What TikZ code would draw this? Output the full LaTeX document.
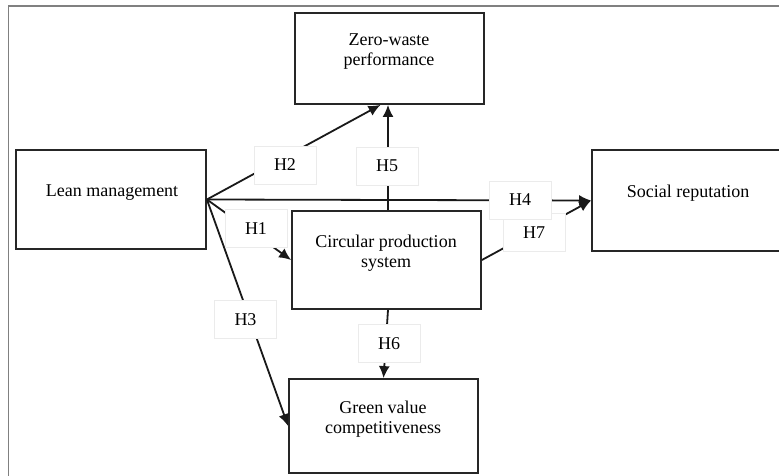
\documentclass[tikz,border=0pt]{standalone}
\usepackage{fontspec}
\setmainfont{Liberation Serif}
\usetikzlibrary{arrows.meta}
\begin{document}
\begin{tikzpicture}[x=1pt,y=-1pt,
  box/.style={draw=black!85,line width=1.8pt,rectangle,inner sep=0pt},
  txt/.style={align=center,inner sep=0pt,font=\fontsize{18}{20}\selectfont},
  hlab/.style={draw=black!8,line width=0.6pt,fill=white,minimum width=62pt,minimum height=38pt,inner sep=0pt,font=\fontsize{18}{20}\selectfont},
  arr/.style={draw=black!90,line width=1.8pt,-{Latex[length=12pt,width=11pt]}}]
\useasboundingbox (0,0) rectangle (779,476);
\clip (0,0) rectangle (779,476);
% outer frame
\draw[gray,line width=1.2pt] (8.5,480) -- (8.5,6) -- (790,6);
% boxes
\node[box,minimum width=189pt,minimum height=91pt] (zw) at (389.5,58.5) {};
\node[box,minimum width=190pt,minimum height=99pt] (lean) at (111,199.5) {};
\node[box,minimum width=190pt,minimum height=101pt] (soc) at (687,200.5) {};
\node[box,minimum width=189pt,minimum height=98pt] (circ) at (386.5,260) {};
\node[box,minimum width=189pt,minimum height=94pt] (green) at (383.5,426) {};
% box texts
\node[txt] (zwt) at (389,52) {Zero-waste\\performance};
\node[txt] (leant) at (112,193) {Lean management};
\node[txt] (soct) at (688,193) {Social reputation};
\node[txt] (circt) at (386,253) {Circular production\\system};
\node[txt] (greent) at (383,419) {Green value\\competitiveness};
% arrows
\draw[arr] (lean.east) -- ([xshift=-9pt]zw.south);
\draw[arr] ([xshift=1.5pt]circ.north) -- ([xshift=-1.5pt]zw.south);
\draw[arr] (lean.east) -- (soc.west);
\draw[arr] (lean.east) -- (circ.west);
\draw[arr] (lean.east) -- (green.west);
\draw[arr] ([xshift=1.5pt]circ.south) -- (green.north);
\draw[arr] (circ.east) -- (soc.west);
% labels
\node[hlab] (h2) at (285,165) {H2};
\node[hlab] (h5) at (387,166) {H5};
\node[hlab] (h1) at (256,228.5) {H1};
\node[hlab] (h7) at (534,232.5) {H7};
\node[hlab] (h4) at (520,200) {H4};
\node[hlab] (h3) at (245.5,319.5) {H3};
\node[hlab] (h6) at (389,343.5) {H6};
\end{tikzpicture}
\end{document}
